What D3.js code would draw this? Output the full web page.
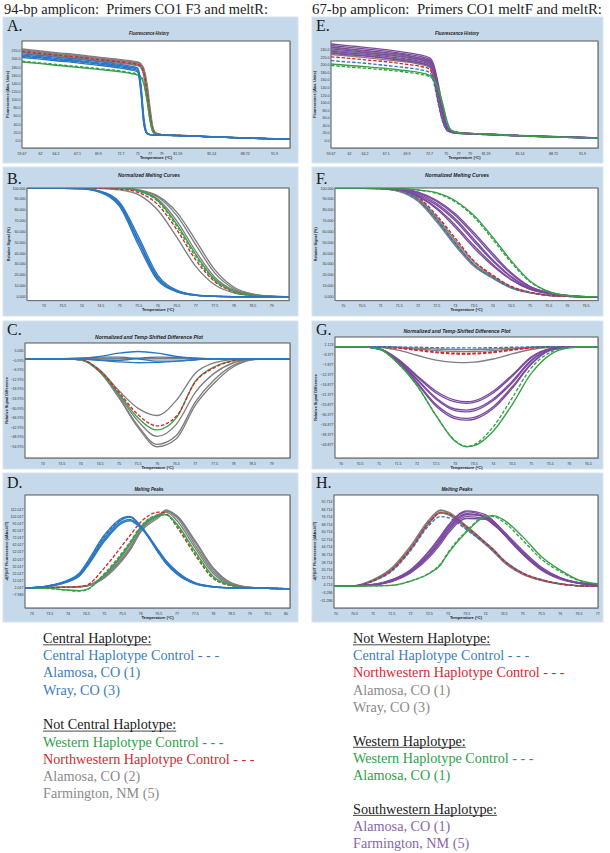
<!DOCTYPE html>
<html><head><meta charset="utf-8">
<script src="https://cdn.jsdelivr.net/npm/d3@7"></script>
<style>body{margin:0;background:#fff}svg{display:block}</style>
</head><body><svg id="c" width="610" height="853"></svg>
<script>
// ---------------- DATA ----------------
const histTicks = [59.67, 62, 64.2, 67.1, 69.9, 72.7, 75, 77, 79, 81.59, 85.14, 88.72, 91.9];
const histEnd = 93.8;
const yTicksA = [0, 20, 40, 60, 80, 100, 120, 140, 160, 180, 200, 220];
const yTicksE = [0, 20, 40, 60, 80, 100, 120, 140, 160, 180, 200, 220, 240];
const xTicksBC = [73, 73.5, 74, 74.5, 75, 75.5, 76, 76.5, 77, 77.5, 78, 78.5, 79];
const xTicksD = [73, 73.5, 74, 74.5, 75, 75.5, 76, 76.5, 77, 77.5, 78, 78.5, 79, 79.5, 80];
const xTicksFG = [70, 70.5, 71, 71.5, 72, 72.5, 73, 73.5, 74, 74.5, 75, 75.5, 76, 76.5];
const xTicksH = [70, 70.5, 71, 71.5, 72, 72.5, 73, 73.5, 74, 74.5, 75, 75.5, 76, 76.5, 77];
const yTicksNorm = [0, 10, 20, 30, 40, 50, 60, 70, 80, 90, 100];
const yTicksC = [5.03, -0.97, -6.97, -12.97, -18.97, -24.97, -30.97, -36.97, -42.97, -48.97, -54.97];
const yTicksD = [112.017, 102.017, 92.017, 82.017, 72.017, 62.017, 52.017, 42.017, 32.017, 22.017, 12.017, 2.017, -7.983];
const yTicksG = [1.123, -3.377, -7.877, -12.377, -16.877, -21.377, -25.877, -30.377, -34.877, -39.377, -43.877];
const yTicksH = [92.714, 84.714, 76.714, 68.714, 60.714, 52.714, 44.714, 36.714, 28.714, 20.714, 12.714, 4.714, -3.286, -11.286];

// Panel A: fluorescence history (94-bp)
const tempA = [59.67, 62, 64.2, 67.1, 69.9, 72.7, 74, 75, 75.5, 76, 76.5, 77, 77.5, 78, 79, 81.59, 85.14, 88.72, 91.9, 93.8];
const curvesA = [
  ["other", [225,220,216,211,205,199,196,193,189,176,140,80,32,19,15,13.5,10,7,5,4]],
  ["other", [223,218,214,209,203,197,194,191,187,172,132,72,29,18,15,13.5,10,7,5,4]],
  ["other", [221,216,212,207,201,195,192,189,185,168,125,65,27,18,15,13,10,7,5,4]],
  ["other", [218,213,209,204,198,192,189,186,181,162,115,58,25,17,14.5,13,9.5,6.5,4.5,3.5]],
  ["other", [216,211,207,202,196,190,187,184,179,158,108,52,23,17,14.5,13,9.5,6.5,4.5,3.5]],
  ["nwCtrl", [219,214,210,205,199,193,190,187,182,165,120,60,26,17,14.5,13,9.5,6.5,4.5,3.5]],
  ["westernCtrl", [195,191,187,182,177,171,167,163,158,142,100,50,22,16,14,12.5,9.5,6.5,4.5,3.5]],
  ["western", [193,189,185,180,175,169,165,161,156,139,98,48,21,16,14,12.5,9.5,6.5,4.5,3.5]],
  ["central", [213,209,205,200,194,187,183,178,140,55,20,15,14.5,14,13.5,12.5,9.5,6.5,4.5,3.5]],
  ["central", [210,206,202,197,191,184,180,175,132,48,19,15,14.5,14,13.5,12.5,9.5,6.5,4.5,3.5]],
  ["central", [207,203,199,194,188,181,177,171,125,42,18,15,14.5,14,13.5,12.5,9.5,6.5,4.5,3.5]],
  ["central", [204,200,196,191,185,178,174,168,118,38,17,14.5,14,13.5,13,12.5,9.5,6.5,4.5,3.5]],
  ["centralCtrl", [208,204,200,195,189,182,178,173,128,45,18,15,14.5,14,13.5,12.5,9.5,6.5,4.5,3.5]]
];

// Panel B: normalized melting curves (94-bp)
const tempB = [72.5, 73, 73.5, 74, 74.5, 75, 75.5, 76, 76.5, 77, 77.5, 78, 78.5, 79, 79.5];
const curvesB = [
  ["other", [100,100,100,100,99.8,98.5,94,80,55,28,11,3.5,1,0.2,0]],
  ["other", [100,100,100,100,100.2,99.8,97.5,90,70,42,18,6,1.5,0.3,0]],
  ["other", [100,100,100,100,100.3,100,98,92,75,48,22,7.5,2,0.3,0]],
  ["other", [100,100,100,100,100.3,100.1,98.5,93,78,52,25,9,2.5,0.4,0]],
  ["nwCtrl", [100,100,100,100,100,99.3,96,85,62,34,14,4.5,1.2,0.2,0]],
  ["westernCtrl", [100,100,100,100.2,100.8,100.6,97.5,88,65,37,15,5,1.3,0.2,0]],
  ["western", [100,100,100,100.2,101,100.8,98,89,67,39,16,5,1.3,0.2,0]],
  ["central", [100,100,100,99.8,97,86,52,18,5.5,1.5,0.4,0,0,0,0]],
  ["central", [100,100,100,99.6,96,83,47,15,4.5,1.2,0.3,0,0,0,0]],
  ["central", [100,100,100,99.7,96.5,84.5,50,16.5,5,1.3,0.3,0,0,0,0]],
  ["central", [100,100,100,99.8,97.2,87,55,20,6,1.7,0.4,0,0,0,0]],
  ["centralCtrl", [100,100,100,99.7,96.8,85,51,17,5.2,1.4,0.3,0,0,0,0]]
];

// Panel C: difference plot (94-bp)
const tempC = [72.5, 73, 73.5, 74, 74.5, 75, 75.5, 76, 76.5, 77, 77.5, 78, 78.5, 79, 79.5];
const curvesC = [
  ["other", [0,0,0,0,0,0,0,0,0,0,0,0,0,0,0]],
  ["other", [0,0,0,-0.5,-7,-20,-31,-35.5,-26,-9,-2.5,-0.5,0,0,0]],
  ["other", [0,0,0,-0.6,-8,-23,-39,-48.5,-41,-21,-9,-2.5,-0.3,0,0]],
  ["other", [0,0,0,-0.6,-8,-24,-42,-53.5,-48,-27,-13,-4,-0.5,0,0]],
  ["other", [0,0,0,-0.6,-8.5,-24.5,-43,-55,-50,-29,-15,-5,-0.6,0,0]],
  ["western", [0,0,0,-0.6,-8,-22,-37,-44.5,-37,-14,-5,-1.2,0,0,0]],
  ["nwCtrl", [0,0,0,-0.5,-7.5,-21,-35,-42,-36,-14.5,-5.5,-1.3,-0.1,0,0]],
  ["central", [0,0,0,0.3,1.5,3.5,4.5,3.5,1.5,0.4,0,0,0,0,0]],
  ["central", [0,0,0,-0.2,-1,-2,-2.5,-2.3,-1.5,-0.6,-0.1,0,0,0,0]],
  ["central", [0,0,0,0.3,1,1,0,-1.5,-1.5,-0.6,0,0,0,0,0]],
  ["central", [0,0,0,-0.2,-0.8,-1,0.3,1,0.9,0.3,0,0,0,0,0]]
];

// Panel D: melting peaks (94-bp)
const tempD = [72.8, 73, 73.5, 74, 74.3, 74.5, 75, 75.5, 75.7, 76, 76.5, 76.7, 77, 77.5, 78, 78.5, 79, 79.5, 80, 80.2];
const curvesD = [
  ["other", [2,2,2.5,3,3.5,4.5,20,48,62,87,105,108,96,58,22,6,2.5,1.5,1,1]],
  ["other", [2,2,2.5,3,3.5,4.5,18,45,58,84,104,110,100,62,25,7,2.5,1.5,1,1]],
  ["other", [2,2,2.5,3,3.5,4.5,17,43,56,82,103,111,102,66,28,8,2.5,1.5,1,1]],
  ["other", [2,2,2.5,3,3.5,4.5,16,41,54,80,101,109.5,103,68,30,9,3,1.5,1,1]],
  ["nwCtrl", [2,2,2.5,3,4,5.5,30,62,75,94,108,106,87,48,15,5,2,1.5,1,1]],
  ["westernCtrl", [2,2,1,-1.5,-2.5,-1,22,52,66,88,104,104,89,50,16,5,2,1.5,1,1]],
  ["western", [2,2,1.2,-1,-2,-0.5,20,50,64,86,103,104.5,91,53,18,5.5,2,1.5,1,1]],
  ["central", [2,2.3,5,12,20,33,72,98,101,89,52,38,23,8,3.5,2,1.5,1.2,1,1]],
  ["central", [2,2.3,5.5,13,22,36,76,100,102,88,50,36,21,7.5,3.2,2,1.5,1.2,1,1]],
  ["central", [2,2.2,4.8,11,19,31,69,95,98,88,54,40,25,9,3.8,2,1.5,1.2,1,1]],
  ["central", [2,2.2,4.5,10.5,18,30,67,93,96,86,53,39,24,9,3.8,2,1.5,1.2,1,1]],
  ["centralCtrl", [2,2.3,5.2,12.5,21,34,74,99,101.5,88,51,37,22,8,3.4,2,1.5,1.2,1,1]]
];

// Panel E: fluorescence history (67-bp)
const tempE = [59.67, 62, 64.2, 67.1, 69.9, 71.5, 72.7, 73.3, 73.9, 74.5, 75, 75.5, 76, 77, 79, 81.59, 85.14, 88.72, 91.9, 93.8];
const curvesE = [
  ["other", [246,241,237,231,224,218,211,180,118,62,33,25,22,20,18.5,17,13,10,8,6.5]],
  ["other", [240,235,232,226,219,213,206,174,112,58,32,25,22,20,18,17,13,10,8,6.5]],
  ["other", [234,229,226,220,213,207,200,168,108,56,31,24.5,22,20,18,16.5,13,10,8,6.5]],
  ["other", [228,224,220,214,208,202,195,163,104,54,30,24,21.5,19.5,18,16.5,12.5,10,8,6.5]],
  ["nwCtrl", [222,218,214,209,202,197,190,160,102,53,30,24,21.5,19.5,18,16.5,12.5,10,8,6.5]],
  ["centralCtrl", [212,208,205,199,193,188,181,152,96,50,29,23.5,21,19,17.5,16,12.5,9.5,7.5,6]],
  ["southwestern", [256,251,247,241,233,227,219,200,150,88,44,29,25,22,19.5,18,14,11,9,7.5]],
  ["southwestern", [252,247,243,237,229,223,215,195,142,82,41,28,24,21.5,19,17.5,13.5,10.5,8.5,7]],
  ["southwestern", [248,243,239,233,226,219,212,190,135,78,39,27,24,21,19,17.5,13.5,10.5,8.5,7]],
  ["southwestern", [243,238,234,228,221,215,208,186,130,74,37,27,23.5,21,18.5,17,13.5,10.5,8.5,7]],
  ["southwestern", [237,232,229,223,216,210,203,182,126,71,36,26,23,20.5,18.5,17,13,10,8,6.5]],
  ["southwestern", [232,227,224,218,211,205,198,178,122,68,35,26,23,20.5,18.5,17,13,10,8,6.5]],
  ["western", [203,199,196,191,185,180,173,163,138,98,58,34,26,21.5,19,17.5,13,10,8,6.5]],
  ["westernCtrl", [199,195,192,187,181,176,170,160,134,94,55,33,25,21,19,17.5,13,10,8,6.5]]
];

// Panel F: normalized melting curves (67-bp)
const tempF = [69.7, 70, 70.5, 71, 71.5, 72, 72.5, 73, 73.5, 74, 74.5, 75, 75.5, 76, 76.5, 76.9];
const curvesF = [
  ["other", [100,100,100,99.8,98,90,72,50,30,18,8.5,3.8,1.2,0.3,0,0]],
  ["other", [100,100,100,99.6,97,88,69,47,28,17,8,3.6,1.1,0.3,0,0]],
  ["other", [100,100,100,99.7,97.5,89,70.5,48.5,29,17.5,8.2,3.7,1.2,0.3,0,0]],
  ["other", [100,100,100,99.8,98.3,91,73.5,52,32,19,9,4,1.3,0.3,0,0]],
  ["centralCtrl", [100,100,100,99.7,97.8,89.5,71,49,29.5,17.8,8.3,3.7,1.2,0.3,0,0]],
  ["nwCtrl", [100,100,100,99.8,98.5,92,75,54,33,20,9.5,4.2,1.3,0.3,0,0]],
  ["southwestern", [100,100,100,100,99.5,95,86,72,53,34,18.5,8,3.4,1,0,0]],
  ["southwestern", [100,100,100,100,99.3,94,84.5,70,51,33,18,7.8,3.3,1,0,0]],
  ["southwestern", [100,100,100,99.9,99,93,82,66,47,30,16,7,3,0.9,0,0]],
  ["southwestern", [100,100,100,99.9,98.8,92.5,81,64,45,28.5,15.5,6.8,2.9,0.9,0,0]],
  ["southwestern", [100,100,100,100,99.6,96,88,75,57,38,21,9,3.7,1.1,0,0]],
  ["southwestern", [100,100,100,100,99.6,96.5,89,76.5,59,40,22,9.5,3.8,1.1,0,0]],
  ["western", [100,100,100,100,99.8,98.5,96,88.5,75,55,33,14.5,4.8,1.1,0.1,0]],
  ["westernCtrl", [100,100,100,100,99.8,98.2,95.4,87.5,73.5,53,31.5,13.8,4.6,1,0.1,0]]
];

// Panel G: difference plot (67-bp)
const tempG = [69.7, 70, 70.5, 71, 71.5, 72, 72.5, 73, 73.3, 73.5, 74, 74.5, 75, 75.5, 76, 76.5, 76.9];
const curvesG = [
  ["other", [0,0,0,-0.2,-1.5,-3.8,-6,-7,-7.1,-6.9,-5.5,-3.2,-1.2,-0.2,0,0,0]],
  ["other", [0,0,0,-0.1,-0.4,-1,-1.7,-2.1,-2.2,-2.1,-1.7,-1,-0.3,0,0,0,0]],
  ["other", [0,0,0,0,-0.2,-0.6,-1,-1.2,-1.3,-1.2,-1,-0.6,-0.2,0,0,0,0]],
  ["nwCtrl", [0,0,0,-0.1,-0.6,-1.6,-2.6,-3.2,-3.3,-3.2,-2.6,-1.5,-0.5,-0.1,0,0,0]],
  ["nwCtrl", [0,0,0,-0.1,-0.5,-1.4,-2.3,-2.9,-3,-2.9,-2.3,-1.3,-0.4,-0.1,0,0,0]],
  ["centralCtrl", [0,0,0,0,-0.1,-0.2,-0.4,-0.5,-0.5,-0.5,-0.4,-0.2,-0.1,0,0,0,0]],
  ["southwestern", [0,0,0,-0.8,-5.5,-13,-20,-24,-24.7,-24.3,-20,-12.7,-4.5,-0.8,0,0,0]],
  ["southwestern", [0,0,0,-0.8,-5.8,-13.5,-20.8,-24.8,-25.4,-25,-20.8,-13.3,-4.9,-0.9,0,0,0]],
  ["southwestern", [0,0,0,-0.9,-6,-14.5,-23,-28,-28.5,-28,-23.5,-15.5,-6,-1.2,-0.1,0,0]],
  ["southwestern", [0,0,0,-0.9,-6.2,-15,-23.6,-28.7,-29.3,-28.8,-24.2,-16.2,-6.4,-1.3,-0.1,0,0]],
  ["southwestern", [0,0,0,-1,-6.5,-16,-26,-31.5,-32.2,-31.8,-27,-18,-7.5,-1.5,-0.1,0,0]],
  ["southwestern", [0,0,0,-1,-6.7,-16.5,-26.7,-32.3,-33,-32.6,-27.8,-18.7,-7.9,-1.6,-0.1,0,0]],
  ["western", [0,0,0,-1,-7.5,-17.5,-31,-42.5,-45,-44.5,-38,-26,-12,-3.5,-0.5,0,0]],
  ["westernCtrl", [0,0,0,-1,-7.5,-17.5,-31,-42.3,-44.8,-44,-36,-23,-9.5,-2.5,-0.3,0,0]]
];

// Panel H: melting peaks (67-bp)
const tempH = [69.9, 70.5, 71, 71.5, 72, 72.5, 72.8, 73, 73.5, 74, 74.2, 74.5, 75, 75.5, 76, 76.5, 77.1];
const curvesH = [
  ["other", [3.5,4,10,22,45,73,84,81,66,49,42,30,17,10,6,4,3.5]],
  ["other", [3.5,4,9.5,21,43,71,82,79.5,65,48,41,29,16.5,10,6,4,3.5]],
  ["other", [3.5,4,9,20,42,70,81,79,64,47.5,40.5,28.5,16,9.5,5.8,4,3.5]],
  ["other", [3.5,4.2,10.5,23,46,74,83.5,82,67,50,43,31,17.5,10.5,6.2,4.2,3.6]],
  ["centralCtrl", [3.5,4,9,19.5,41,68,77,76,63,48,41,30,17.5,10.5,6,4,3.5]],
  ["nwCtrl", [3.5,4,9.5,21,43,71,81,80,66,49.5,42.5,30.5,17,10,6,4,3.5]],
  ["southwestern", [3.5,4,5.4,10,20.5,40,55,66,82,77,71,58,37,20.5,11,6.5,4.7]],
  ["southwestern", [3.5,4,5.2,9.5,19.5,38,53,64,80,76,70.5,58,37.5,21,11.5,6.7,4.8]],
  ["southwestern", [3.5,4,5,9,18.5,36,50,61,77,75,69.5,58.5,38.5,22,12,7,5]],
  ["southwestern", [3.5,4,4.8,8.5,17.5,34,48,59,75,74,69,58.5,39,22.5,12.5,7.2,5]],
  ["southwestern", [3.5,4,5.5,10.5,21,41,56.5,67.5,83,79,73,60,39,21.5,11.5,6.7,4.8]],
  ["southwestern", [3.5,4,5,9.2,19,37,52,63,79,77.5,72.5,61,41,23.5,12.5,7.2,5]],
  ["western", [3.5,3.8,4,4.5,9,17,26,38,61,77,78,73.3,55.6,34.6,20.5,10,5.8]],
  ["westernCtrl", [3.5,3.8,4,4.5,9,17.5,27,39,62,77,77,71,52,32,19,9.5,5.5]]
];

const legendLeft = [
  ["head", "Central Haplotype:"],
  ["central", "Central Haplotype Control - - -"],
  ["central", "Alamosa, CO (1)"],
  ["central", "Wray, CO (3)"],
  ["gap", ""],
  ["head", "Not Central Haplotype:"],
  ["western", "Western Haplotype Control - - -"],
  ["nwCtrl", "Northwestern Haplotype Control - - -"],
  ["other", "Alamosa, CO (2)"],
  ["other", "Farmington, NM (5)"]
];
const legendRight = [
  ["head", "Not Western Haplotype:"],
  ["central", "Central Haplotype Control - - -"],
  ["nwCtrl", "Northwestern Haplotype Control - - -"],
  ["other", "Alamosa, CO (1)"],
  ["other", "Wray, CO (3)"],
  ["gap", ""],
  ["head", "Western Haplotype:"],
  ["western", "Western Haplotype Control - - -"],
  ["western", "Alamosa, CO (1)"],
  ["gap", ""],
  ["head", "Southwestern Haplotype:"],
  ["southwestern", "Alamosa, CO (1)"],
  ["southwestern", "Farmington, NM (5)"]
];

// ---------------- STYLE ----------------
const lineColor = {other:"#7f7f7f", central:"#2c77c2", centralCtrl:"#2c77c2", western:"#37a047",
  westernCtrl:"#37a047", nwCtrl:"#d3262c", southwestern:"#7b4aa0"};
const textColor = {head:"#1a1a1a", central:"#3c7dbd", western:"#2e9f4c", nwCtrl:"#d22a31",
  other:"#8a8a8a", southwestern:"#8866aa"};
const PANEL_BG = "#c6d9ea";
const svg = d3.select("#c");
const sans = "'Liberation Sans', Arial, sans-serif";
const serif = "'Liberation Serif', 'Times New Roman', serif";

// headers
svg.append("text").attr("x", 4).attr("y", 14).attr("font-family", serif).attr("font-size", 15)
  .attr("fill", "#222").attr("textLength", 264).attr("lengthAdjust", "spacingAndGlyphs")
  .style("white-space", "pre").text("94-bp amplicon:  Primers CO1 F3 and meltR:");
svg.append("text").attr("x", 312).attr("y", 14).attr("font-family", serif).attr("font-size", 15)
  .attr("fill", "#222").attr("textLength", 290).attr("lengthAdjust", "spacingAndGlyphs")
  .style("white-space", "pre").text("67-bp amplicon:  Primers CO1 meltF and meltR:");

let clipId = 0;
function panel(c) {
  const g = svg.append("g");
  const [bx0, by0, bx1, by1] = c.box;
  const [px0, py0, px1, py1] = c.plot;
  g.append("rect").attr("x", bx0).attr("y", by0).attr("width", bx1 - bx0).attr("height", by1 - by0)
    .attr("fill", PANEL_BG).attr("stroke", "#d7e4ef").attr("stroke-width", 1);
  g.append("text").attr("x", bx0 + 4).attr("y", c.letterY).attr("font-family", serif)
    .attr("font-size", 16).attr("fill", "#1a1a1a").text(c.letter);
  g.append("text").attr("x", c.titleX).attr("y", c.titleY).attr("text-anchor", "middle")
    .attr("font-family", sans).attr("font-size", 4.6).attr("font-weight", "bold").attr("font-style", "italic")
    .attr("fill", "#222").attr("textLength", c.titleW).attr("lengthAdjust", "spacingAndGlyphs").text(c.title);
  g.append("rect").attr("x", px0 + 0.8).attr("y", py0 + 0.8).attr("width", px1 - px0).attr("height", py1 - py0)
    .attr("fill", "#8fa3b5");
  g.append("rect").attr("x", px0).attr("y", py0).attr("width", px1 - px0).attr("height", py1 - py0)
    .attr("fill", "#fff").attr("stroke", "#6a6a6a").attr("stroke-width", 0.7);
  const x = c.x, y = c.y;
  g.append("g").selectAll("text").data(c.yTicks).join("text")
    .attr("x", px0 - 1.5).attr("y", d => y(d)).attr("dy", "0.35em").attr("text-anchor", "end")
    .attr("font-family", sans).attr("font-size", 3.6).attr("fill", "#333").text(c.yFmt);
  g.append("g").selectAll("text").data(c.xTicks).join("text")
    .attr("x", d => x(d)).attr("y", py1 + 6.5).attr("text-anchor", "middle")
    .attr("font-family", sans).attr("font-size", 3.6).attr("fill", "#333").text(c.xFmt);
  g.append("text").attr("x", (px0 + px1) / 2).attr("y", py1 + 10.5).attr("text-anchor", "middle")
    .attr("font-family", sans).attr("font-size", 4).attr("font-weight", "bold").attr("fill", "#222")
    .text("Temperature (\u00B0C)");
  g.append("text").attr("transform", `translate(${c.ytX},${(py0 + py1) / 2}) rotate(-90)`)
    .attr("text-anchor", "middle").attr("font-family", sans).attr("font-size", 3.8).attr("font-weight", "bold")
    .attr("fill", "#222").text(c.yTitle);
  const id = "clip" + (clipId++);
  g.append("clipPath").attr("id", id).append("rect").attr("x", px0).attr("y", py0)
    .attr("width", px1 - px0).attr("height", py1 - py0);
  const line = d3.line().x((d, i) => x(c.temps[i])).y(d => y(d)).curve(d3.curveMonotoneX);
  const cg = g.append("g").attr("clip-path", `url(#${id})`);
  cg.selectAll("path").data(c.curves).join("path")
    .attr("d", d => line(d[1])).attr("fill", "none")
    .attr("stroke", d => lineColor[d[0]]).attr("stroke-width", 1.35)
    .attr("stroke-dasharray", d => d[0].endsWith("Ctrl") ? "3.5,1.8" : null)
    .attr("stroke-linejoin", "round");
  g.append("rect").attr("x", px0).attr("y", py0).attr("width", px1 - px0).attr("height", py1 - py0)
    .attr("fill", "none").attr("stroke", "#6a6a6a").attr("stroke-width", 0.7);
}

const histFrac = [0, .069, .127, .207, .285, .369, .432, .478, .521, .581, .708, .833, .942, 1];
function histX(x0, x1) {
  return d3.scaleLinear().domain([...histTicks, histEnd]).range(histFrac.map(f => x0 + f * (x1 - x0)));
}
const f1 = d3.format(".1f"), f3 = d3.format(".3f");
const fx = d => String(d);

panel({box:[3,17,298,163], plot:[22,41,290,148], letter:"A.", letterY:31, title:"Fluorescence History",
  titleX:149, titleY:35, titleW:40, x:histX(22,290), y:d3.scaleLinear().domain([0,220]).range([140.7,51]),
  xTicks:histTicks, xFmt:fx, yTicks:yTicksA, yFmt:f1, ytX:9, yTitle:"Fluorescence (Abs. Units)",
  temps:tempA, curves:curvesA});
panel({box:[3,167,298,316], plot:[27,188,289,300.5], letter:"B.", letterY:184, title:"Normalized Melting Curves",
  titleX:149, titleY:176.5, titleW:62, x:d3.scaleLinear().domain([73,79]).range([43.7,271.7]),
  y:d3.scaleLinear().domain([0,100]).range([296.7,188.3]),
  xTicks:xTicksBC, xFmt:fx, yTicks:yTicksNorm, yFmt:f3, ytX:10, yTitle:"Relative Signal (%)",
  temps:tempB, curves:curvesB});
panel({box:[3,321,298,469], plot:[25,343,290,458], letter:"C.", letterY:335, title:"Normalized and Temp-Shifted Difference Plot",
  titleX:149, titleY:339, titleW:108, x:d3.scaleLinear().domain([73,79]).range([42.7,271.7]),
  y:d3.scaleLinear().domain([-54.97,5.03]).range([446.7,350.7]),
  xTicks:xTicksBC, xFmt:fx, yTicks:yTicksC, yFmt:f3, ytX:8, yTitle:"Relative Signal Difference",
  temps:tempC, curves:curvesC});
panel({box:[3,473,298,622], plot:[25,495,290,608], letter:"D.", letterY:488, title:"Melting Peaks",
  titleX:149, titleY:490.5, titleW:29, x:d3.scaleLinear().domain([73,80]).range([31.7,286]),
  y:d3.scaleLinear().domain([-7.983,112.017]).range([595,509.3]),
  xTicks:xTicksD, xFmt:fx, yTicks:yTicksD, yFmt:f3, ytX:8, yTitle:"-d(F)/dT Fluorescence (dAbs./dT)",
  temps:tempD, curves:curvesD});
panel({box:[312,17,603,163], plot:[331,41,598,148], letter:"E.", letterY:31, title:"Fluorescence History",
  titleX:457, titleY:35, titleW:44, x:histX(331,598), y:d3.scaleLinear().domain([0,240]).range([140.7,50]),
  xTicks:histTicks, xFmt:fx, yTicks:yTicksE, yFmt:f1, ytX:316, yTitle:"Fluorescence (Abs. Units)",
  temps:tempE, curves:curvesE});
panel({box:[312,167,603,316], plot:[335,188,598,300.5], letter:"F.", letterY:184, title:"Normalized Melting Curves",
  titleX:457, titleY:176.5, titleW:64, x:d3.scaleLinear().domain([70,76.5]).range([343.3,586]),
  y:d3.scaleLinear().domain([0,100]).range([296.7,188.3]),
  xTicks:xTicksFG, xFmt:fx, yTicks:yTicksNorm, yFmt:f3, ytX:317, yTitle:"Relative Signal (%)",
  temps:tempF, curves:curvesF});
panel({box:[312,321,603,469], plot:[335,337,598,458], letter:"G.", letterY:335, title:"Normalized and Temp-Shifted Difference Plot",
  titleX:457, titleY:333, titleW:107, x:d3.scaleLinear().domain([70,76.5]).range([341,588.3]),
  y:d3.scaleLinear().domain([-43.877,1.123]).range([444.3,344.3]),
  xTicks:xTicksFG, xFmt:fx, yTicks:yTicksG, yFmt:f3, ytX:317, yTitle:"Relative Signal Difference",
  temps:tempG, curves:curvesG});
panel({box:[312,473,603,622], plot:[334,495,598,608], letter:"H.", letterY:488, title:"Melting Peaks",
  titleX:457, titleY:490.5, titleW:31, x:d3.scaleLinear().domain([70,77]).range([335.7,597.7]),
  y:d3.scaleLinear().domain([-11.286,92.714]).range([600.3,501.7]),
  xTicks:xTicksH, xFmt:fx, yTicks:yTicksH, yFmt:f3, ytX:316, yTitle:"-d(F)/dT Fluorescence (dAbs./dT)",
  temps:tempH, curves:curvesH});

// legends
function legend(items, x0, y0, step, gapStep) {
  let yy = y0;
  items.forEach(([k, t]) => {
    if (k === "gap") { yy += gapStep; return; }
    const tx = svg.append("text").attr("x", x0).attr("y", yy).attr("font-family", serif)
      .attr("font-size", 14.2).attr("fill", textColor[k]).style("white-space", "pre").text(t);
    if (k === "head") {
      const w = tx.node().getComputedTextLength();
      svg.append("line").attr("x1", x0).attr("x2", x0 + w).attr("y1", yy + 1.8).attr("y2", yy + 1.8)
        .attr("stroke", textColor[k]).attr("stroke-width", 0.8);
    }
    yy += step;
  });
}
legend(legendLeft, 43, 643, 17.2, 17.5);
legend(legendRight, 353, 643, 17.2, 16.5);
</script></body></html>
